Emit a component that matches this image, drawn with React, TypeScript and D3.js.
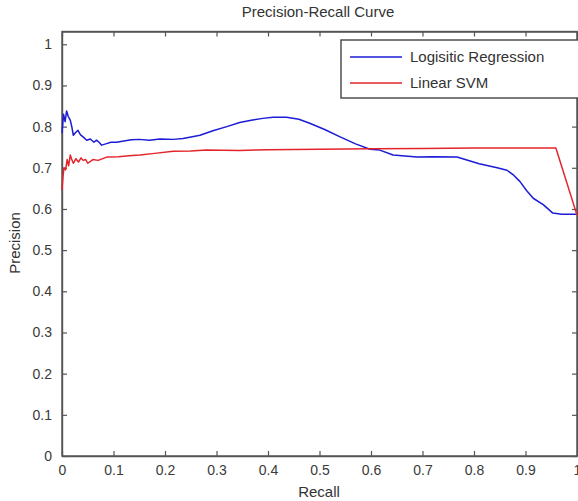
import React, { useRef, useEffect } from "react";
import * as d3 from "d3";

// Logistic regression precision-recall points
const lrRecall = [0, 0.003, 0.006, 0.009, 0.012, 0.016, 0.019, 0.022, 0.026, 0.031, 0.036, 0.041, 0.048, 0.055, 0.062, 0.067, 0.072, 0.077, 0.085, 0.095, 0.106, 0.12, 0.135, 0.15, 0.17, 0.19, 0.216, 0.235, 0.248, 0.268, 0.293, 0.32, 0.345, 0.37, 0.39, 0.41, 0.436, 0.46, 0.481, 0.51, 0.54, 0.57, 0.598, 0.617, 0.643, 0.689, 0.72, 0.767, 0.81, 0.845, 0.864, 0.877, 0.889, 0.902, 0.915, 0.935, 0.953, 0.97, 1.0];
const lrPrecision = [0.784, 0.83, 0.812, 0.838, 0.825, 0.816, 0.8, 0.779, 0.785, 0.791, 0.78, 0.775, 0.767, 0.77, 0.762, 0.767, 0.762, 0.755, 0.758, 0.762, 0.762, 0.765, 0.768, 0.769, 0.767, 0.77, 0.769, 0.771, 0.774, 0.779, 0.79, 0.8, 0.81, 0.816, 0.82, 0.823, 0.823, 0.818, 0.808, 0.793, 0.775, 0.758, 0.745, 0.743, 0.731, 0.726, 0.727, 0.726, 0.71, 0.7, 0.694, 0.682, 0.667, 0.645, 0.626, 0.61, 0.59, 0.587, 0.587];

// Linear SVM
const svmRecall = [0, 0.002, 0.004, 0.007, 0.01, 0.013, 0.016, 0.019, 0.022, 0.027, 0.032, 0.037, 0.041, 0.046, 0.05, 0.06, 0.07, 0.087, 0.11, 0.13, 0.151, 0.18, 0.216, 0.25, 0.28, 0.345, 0.4, 0.5, 0.6, 0.7, 0.8, 0.9, 0.959, 1.0];
const svmPrecision = [0.646, 0.68, 0.7, 0.695, 0.72, 0.705, 0.731, 0.72, 0.711, 0.722, 0.714, 0.724, 0.718, 0.72, 0.711, 0.72, 0.718, 0.726, 0.727, 0.729, 0.731, 0.735, 0.74, 0.741, 0.743, 0.742, 0.744, 0.745, 0.746, 0.747, 0.748, 0.748, 0.748, 0.585];

const seriesNames = ["Logisitic Regression", "Linear SVM"];
const seriesColors = ["#1c1cd6", "#e3242b"];
const tickValues = [0, 0.1, 0.2, 0.3, 0.4, 0.5, 0.6, 0.7, 0.8, 0.9, 1];
const tickLabels = ["0", "0.1", "0.2", "0.3", "0.4", "0.5", "0.6", "0.7", "0.8", "0.9", "1"];

const FONT = "'Liberation Sans', Arial, sans-serif";

function PRChart() {
  const ref = useRef<SVGSVGElement>(null);

  useEffect(() => {
    const svg = d3.select(ref.current);
    svg.selectAll("*").remove();

    const left = 62, right = 577, bottom = 456, top = 31.5;
    const x = d3.scaleLinear().domain([0, 1]).range([left, right]);
    const y = d3.scaleLinear().domain([0, 1.031]).range([bottom, top]);

    svg.append("rect").attr("width", 578).attr("height", 501).attr("fill", "#fff");

    // box
    svg
      .append("rect")
      .attr("x", left)
      .attr("y", top)
      .attr("width", right - left)
      .attr("height", bottom - top)
      .attr("fill", "none")
      .attr("stroke", "#555")
      .attr("stroke-width", 1.4);

    const fmt = (d: number) => tickLabels[tickValues.indexOf(d)];

    // bottom + top
    const xb = svg
      .append("g")
      .attr("transform", `translate(0,${bottom})`)
      .call(d3.axisBottom(x).tickValues(tickValues).tickFormat(fmt as any).tickSizeInner(-5).tickSizeOuter(0).tickPadding(9));
    const xt = svg
      .append("g")
      .attr("transform", `translate(0,${top})`)
      .call(d3.axisTop(x).tickValues(tickValues).tickFormat(() => "").tickSizeInner(-5).tickSizeOuter(0));
    const yl = svg
      .append("g")
      .attr("transform", `translate(${left},0)`)
      .call(d3.axisLeft(y).tickValues(tickValues).tickFormat(fmt as any).tickSizeInner(-5).tickSizeOuter(0).tickPadding(10));
    const yr = svg
      .append("g")
      .attr("transform", `translate(${right},0)`)
      .call(d3.axisRight(y).tickValues(tickValues).tickFormat(() => "").tickSizeInner(-5).tickSizeOuter(0));

    [xb, xt, yl, yr].forEach((g) => {
      g.select(".domain").attr("stroke", "#555").attr("stroke-width", 1.4);
      g.selectAll(".tick line").attr("stroke", "#555").attr("stroke-width", 1.2);
      g.selectAll(".tick text")
        .attr("fill", "#3a3a3a")
        .style("font-family", FONT)
        .style("font-size", "14px");
    });

    const line = d3
      .line<[number, number]>()
      .x((d) => x(d[0]))
      .y((d) => y(d[1]));

    const lrData = lrRecall.map((r, i) => [r, lrPrecision[i]] as [number, number]);
    const svmData = svmRecall.map((r, i) => [r, svmPrecision[i]] as [number, number]);

    [lrData, svmData].forEach((data, i) => {
      svg
        .append("path")
        .datum(data)
        .attr("d", line)
        .attr("fill", "none")
        .attr("stroke", seriesColors[i])
        .attr("stroke-width", 1.5)
        .attr("stroke-linejoin", "round");
    });

    // legend
    const lg = svg.append("g");
    lg.append("rect")
      .attr("x", 341)
      .attr("y", 40)
      .attr("width", 250)
      .attr("height", 58)
      .attr("fill", "#fff")
      .attr("stroke", "#444")
      .attr("stroke-width", 1.4);
    seriesNames.forEach((name, i) => {
      const yy = 57 + i * 26;
      lg.append("line")
        .attr("x1", 350)
        .attr("x2", 402)
        .attr("y1", yy)
        .attr("y2", yy)
        .attr("stroke", seriesColors[i])
        .attr("stroke-width", 1.3);
      lg.append("text")
        .attr("x", 410)
        .attr("y", yy)
        .attr("dy", "0.35em")
        .attr("fill", "#333")
        .style("font-family", FONT)
        .style("font-size", "15px")
        .text(name);
    });

    // title and labels
    svg.append("text")
      .attr("x", 318)
      .attr("y", 17)
      .attr("text-anchor", "middle")
      .attr("fill", "#333")
      .style("font-family", FONT)
      .style("font-size", "15px")
      .text("Precision-Recall Curve");
    svg.append("text")
      .attr("x", 319)
      .attr("y", 497)
      .attr("text-anchor", "middle")
      .attr("fill", "#333")
      .style("font-family", FONT)
      .style("font-size", "15px")
      .text("Recall");
    svg.append("text")
      .attr("transform", "translate(20,243) rotate(-90)")
      .attr("text-anchor", "middle")
      .attr("fill", "#333")
      .style("font-family", FONT)
      .style("font-size", "15px")
      .text("Precision");
  }, []);

  return <svg ref={ref} width="578" height="501" style={{ position: "absolute", left: 0, top: 0, display: "block" }}></svg>;
}

export default function App() {
  return <PRChart />;
}
